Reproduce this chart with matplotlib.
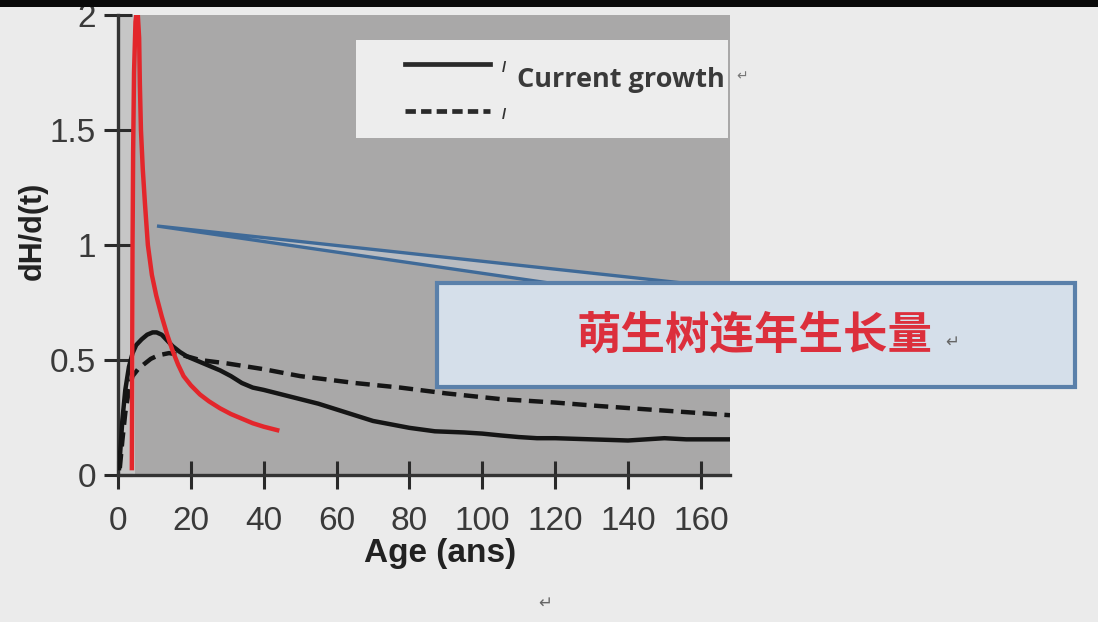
import numpy as np
import matplotlib.pyplot as plt
from matplotlib.patches import Rectangle, Polygon
from matplotlib.lines import Line2D

# values
age_current = [0.3, 0.7, 1.2, 2, 3, 4, 5, 6.5, 8, 9.5, 10.6, 12, 13.5, 15, 17, 19, 22, 25, 28, 31, 34,
               37, 40, 45, 50, 55, 60, 65, 70, 75, 80, 87, 95, 100, 105, 110, 115, 120, 130, 140, 145,
               150, 156, 168]
val_current = [0.03, 0.12, 0.24, 0.37, 0.47, 0.53, 0.565, 0.59, 0.61, 0.62, 0.62, 0.61, 0.585, 0.56,
               0.535, 0.515, 0.495, 0.475, 0.455, 0.43, 0.40, 0.38, 0.37, 0.35, 0.33, 0.31, 0.285, 0.26,
               0.235, 0.22, 0.205, 0.19, 0.185, 0.18, 0.172, 0.165, 0.16, 0.16, 0.155, 0.15, 0.155,
               0.16, 0.155, 0.155]

age_mean = [0.5, 1.2, 2, 3, 4, 5.5, 7, 9, 11, 14, 18, 22.5, 30, 40, 50, 65, 77.5, 90, 105, 120, 132,
            150, 168]
val_mean = [0.03, 0.15, 0.27, 0.37, 0.43, 0.46, 0.48, 0.505, 0.52, 0.53, 0.52, 0.50, 0.485, 0.46, 0.43,
            0.40, 0.38, 0.355, 0.33, 0.315, 0.30, 0.28, 0.26]

age_coppice = [3.8, 3.9, 4.0, 4.15, 4.4, 4.8, 5.3, 5.8, 6.0, 6.3, 6.8, 7.4, 8.2, 9.3, 10.5, 12, 13.5,
               15, 16.5, 18, 20, 22.5, 25, 28, 31, 34, 37, 40, 43.7]
val_coppice = [0.03, 0.5, 1.0, 1.4, 1.75, 1.97, 2.04, 1.9, 1.7, 1.5, 1.33, 1.18, 1.0, 0.87, 0.78, 0.69,
               0.61, 0.54, 0.48, 0.43, 0.39, 0.35, 0.32, 0.29, 0.265, 0.245, 0.225, 0.21, 0.195]

x_ticks = [0, 20, 40, 60, 80, 100, 120, 140, 160]
y_ticks = [0, 0.5, 1, 1.5, 2]
y_tick_labels = ['0', '0.5', '1', '1.5', '2']

legend_label = 'Current growth'
callout_text = '萌生树连年生长量'

W, H = 1098, 622
plt.rcParams['font.family'] = ['Liberation Sans', 'DejaVu Sans']
fig = plt.figure(figsize=(W / 100, H / 100), dpi=100, facecolor='#ebebeb')


def px(x, y):
    # pixel position -> figure fraction
    return x / W, 1 - y / H


ax = fig.add_axes([118 / W, 1 - 475 / H, (730 - 118) / W, (475 - 15) / H])
ax.set_facecolor('#c6c6c6')
ax.axvspan(4.6, 170, color='#a9a8a8', zorder=0, lw=0)

ax.plot(age_current, val_current, color='#151515', lw=3.2, zorder=3)
ax.plot(age_mean, val_mean, color='#151515', lw=3.2, ls=(0, (3.2, 1.7)), zorder=3)
ax.plot(age_coppice, val_coppice, color='#e3262b', lw=3.2, zorder=4)

ax.set_xlim(0, 168)
ax.set_ylim(0, 2)
ax.set_xticks(x_ticks)
ax.set_yticks(y_ticks)
ax.set_yticklabels(y_tick_labels)
for s in ['top', 'right']:
    ax.spines[s].set_visible(False)
for s in ['left', 'bottom']:
    ax.spines[s].set_linewidth(2.4)
    ax.spines[s].set_color('#333333')
ax.tick_params(direction='inout', length=20, width=2.2, color='#2a2a2a',
               labelsize=24, labelcolor='#3a3a3a')
ax.tick_params(axis='x', pad=12)
ax.tick_params(axis='y', pad=6)
ax.set_xlabel('Age (ans)', fontsize=24, fontweight='bold', color='#222222')
ax.xaxis.set_label_coords(0.526, -0.137)
ax.set_ylabel('dH/d(t)', fontsize=22, fontweight='bold', color='#222222')
ax.yaxis.set_label_coords(-0.115, 0.53)

# legend box drawn by hand (only one entry has text)
lx0, ly0 = px(356, 138)
lx1, ly1 = px(728, 40)
fig.add_artist(Rectangle((lx0, ly0), lx1 - lx0, ly1 - ly0, transform=fig.transFigure,
                         facecolor='#ededed', edgecolor='none', zorder=5))
for yy, style in [(64, '-'), (111, (0, (2.2, 1.1)))]:
    a, b = px(405, yy)
    c, d = px(490, yy)
    fig.add_artist(Line2D([a, c], [b, d], transform=fig.transFigure, color='#2a2a2a',
                          lw=3.4, ls=style, zorder=6))
    e, f = px(504, yy + 4)
    fig.text(e, f, '/', fontsize=11, fontweight='bold', color='#333333', ha='center',
             va='center', zorder=6)
tx, ty = px(517, 80)
fig.text(tx, ty, legend_label, fontsize=19.5, fontweight='bold', color='#3a3a3a',
         family=['Open Sans', 'DejaVu Sans'], va='center', ha='left', zorder=6)
tx, ty = px(742, 76)
fig.text(tx, ty, '\u21b5', fontsize=10, color='#777777', va='center', ha='center', zorder=6)

# callout pointer and box
tip = px(157, 226)
p1 = px(556, 284)
p2 = px(692, 284)
fig.add_artist(Polygon([tip, p1, p2], closed=True, transform=fig.transFigure,
                       facecolor=(0.85, 0.89, 0.94, 0.35), edgecolor='#3f6a98', lw=2.4, zorder=7))
bx0, by0 = px(437, 387)
bx1, by1 = px(1075, 283)
fig.add_artist(Rectangle((bx0, by0), bx1 - bx0, by1 - by0, transform=fig.transFigure,
                         facecolor='#d5dfea', edgecolor='#5a80aa', lw=3, zorder=8))
cx, cy = px(755, 336)
fig.text(cx, cy, callout_text, fontsize=32, fontweight='bold', color='#dc2f3c',
         family=['Noto Sans CJK SC', 'DejaVu Sans'], ha='center', va='center', zorder=9)
cx, cy = px(952, 342)
fig.text(cx, cy, '\u21b5', fontsize=12, color='#666666', ha='center', va='center', zorder=9)

cx, cy = px(545, 603)
fig.text(cx, cy, '\u21b5', fontsize=12, color='#666666', ha='center', va='center')

# dark strip across the top of the screenshot
fig.add_artist(Rectangle((0, 1 - 7 / H), 1, 7 / H, transform=fig.transFigure,
                         facecolor='#0a0a0a', edgecolor='none', zorder=10))

fig.savefig('out.png', dpi=100, facecolor=fig.get_facecolor())
